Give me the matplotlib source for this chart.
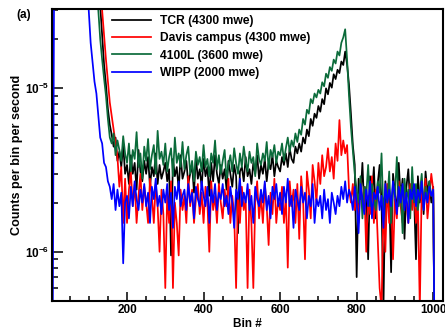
import numpy as np
import matplotlib
matplotlib.use('Agg')
import matplotlib.pyplot as plt
from matplotlib.ticker import MultipleLocator, LogLocator, FixedLocator, FixedFormatter, NullFormatter

# counts per bin per second, in units of 1e-6, one value every 5 bins (bins 0..1005)
bin_step = 5

tcr = [
    0.1, 100, 100, 100, 100, 100, 100, 100, 100, 100,
    100, 100, 100, 100, 100, 100, 100, 100, 100, 100,
    100, 100, 100, 100, 100, 100, 32, 21, 14, 10.5,
    7.5, 6.0, 5.2, 4.4, 5.0, 3.6, 4.1, 3.3, 4.5, 3.0,
    3.4, 2.6, 3.9, 3.0, 3.5, 2.4, 4.2, 3.1, 2.7, 3.6,
    3.0, 3.8, 2.5, 3.3, 2.9, 4.0, 2.6, 3.4, 2.8, 3.1,
    3.5, 2.7, 3.2, 0.95, 3.7, 2.9, 3.3, 2.4, 3.9, 2.8,
    3.1, 3.6, 2.6, 3.0, 3.4, 2.3, 3.8, 2.8, 3.2, 2.5,
    3.7, 2.9, 3.3, 2.2, 3.5, 2.7, 3.9, 3.0, 2.6, 3.4,
    2.8, 3.2, 2.4, 3.6, 3.0, 2.5, 3.4, 2.9, 1.3, 3.1,
    3.3, 2.7, 3.8, 2.9, 3.2, 2.6, 3.5, 3.0, 3.9, 2.8,
    3.4, 3.0, 3.7, 2.7, 3.5, 3.2, 3.9, 2.9, 3.6, 3.3,
    3.1, 3.8, 3.4, 4.0, 3.3, 4.3, 3.7, 3.5, 4.4, 4.0,
    4.6, 4.1, 5.0, 4.6, 5.6, 5.1, 6.5, 5.9, 7.0, 6.6,
    7.8, 7.2, 8.6, 8.0, 10.0, 9.2, 10.8, 10.1, 12.2, 11.4,
    13.0, 12.4, 14.6, 13.9, 16.8, 14.0, 10.5, 7.0, 4.5, 3.4,
    0.7, 2.8, 2.1, 3.5, 1.8, 2.5, 0.9, 2.9, 2.2, 3.3,
    1.6, 2.6, 3.4, 2.0, 0.45, 2.7, 1.9, 2.4, 0.75, 3.0,
    2.3, 1.7, 3.5, 2.1, 2.8, 1.2, 2.5, 3.2, 1.9, 2.6,
    2.2, 0.9, 2.9, 2.0, 2.6, 1.7, 3.1, 2.3, 2.7, 2.0,
    2.5, 0.1,
]

davis = [
    0.1, 100, 100, 100, 100, 100, 100, 100, 100, 100,
    100, 100, 100, 100, 100, 100, 100, 100, 100, 100,
    100, 100, 100, 100, 100, 100, 100, 30, 21, 15,
    11, 8.2, 6.8, 5.6, 4.6, 3.8, 2.5, 3.3, 1.5, 2.8,
    1.5, 2.4, 3.1, 1.9, 2.6, 1.5, 2.2, 3.0, 1.8, 2.5,
    2.0, 1.5, 2.8, 2.2, 1.5, 2.6, 1.9, 1.0, 2.4, 1.7,
    0.6, 2.3, 1.5, 2.7, 0.6, 2.0, 1.5, 0.95, 2.4, 1.8,
    2.2, 1.5, 2.9, 1.9, 2.4, 1.5, 2.1, 2.6, 1.7, 2.3,
    1.5, 2.5, 2.0, 1.0, 2.7, 1.8, 2.2, 1.5, 2.6, 2.0,
    1.6, 2.4, 1.9, 2.8, 1.5, 2.2, 1.7, 0.6, 2.3, 1.5,
    2.5, 1.8, 2.1, 0.6, 2.4, 1.5, 0.6, 2.0, 2.7, 1.6,
    2.2, 1.5, 2.6, 1.9, 1.1, 2.3, 1.7, 2.8, 1.5, 2.1,
    1.8, 2.5, 1.5, 2.2, 0.8, 2.7, 1.9, 2.4, 1.5, 2.6,
    1.2, 2.9, 2.1, 0.9, 3.1, 2.4, 1.6, 3.4, 2.7, 2.0,
    3.5, 2.6, 3.9, 2.9, 3.3, 4.3, 3.1, 3.8, 2.8, 4.6,
    3.6, 6.4, 3.9, 4.8, 4.0, 4.5, 2.4, 2.0, 2.6, 1.8,
    2.3, 1.5, 2.8, 1.9, 2.5, 1.0, 2.2, 1.7, 2.9, 1.5,
    2.4, 1.2, 0.6, 0.45, 2.0, 1.0, 2.6, 1.5, 2.2, 0.9,
    2.1, 1.6, 2.7, 1.9, 1.5, 2.4, 2.0, 1.5, 2.6, 1.8,
    2.3, 1.5, 2.0, 0.45, 2.5, 1.9, 2.8, 1.6, 2.2, 3.0,
    2.4, 0.1,
]

l4100 = [
    0.1, 100, 100, 100, 100, 100, 100, 100, 100, 100,
    100, 100, 100, 100, 100, 100, 100, 100, 100, 100,
    100, 100, 100, 100, 100, 30, 20, 15, 11.5, 9.0,
    6.5, 5.0, 4.6, 5.3, 3.9, 4.8, 4.2, 3.6, 5.1, 4.0,
    3.5, 4.6, 3.1, 4.2, 3.7, 5.4, 3.3, 4.0, 2.8, 4.4,
    3.6, 4.9, 3.2, 3.9, 4.5, 3.0, 5.5, 3.7, 4.1, 3.4,
    4.6, 3.1, 3.8, 4.3, 2.9, 5.0, 3.5, 4.0, 3.3, 4.7,
    3.2, 3.9, 4.4, 3.0, 3.6, 2.7, 4.1, 3.4, 3.8, 3.1,
    4.5, 3.3, 3.7, 2.9, 4.0, 3.5, 4.8, 3.2, 3.9, 3.0,
    3.6, 4.2, 2.8, 3.4, 3.9, 3.1, 4.3, 3.5, 3.0, 4.0,
    3.3, 4.4, 3.6, 3.1, 4.1, 3.5, 3.8, 2.9, 4.6, 3.7,
    3.4, 4.0, 3.6, 4.7, 3.2, 4.2, 3.8, 4.5, 3.5, 4.1,
    3.9, 4.6, 3.6, 4.3, 5.0, 4.1, 4.8, 4.4, 5.3, 4.7,
    5.6, 5.2, 6.5, 6.0, 7.4, 7.0, 8.6, 8.1, 9.3, 8.8,
    9.8, 9.3, 10.9, 10.3, 12.3, 11.6, 13.5, 12.8, 15.0, 14.2,
    16.8, 15.9, 19.0, 20.5, 23.0, 15.0, 9.0, 5.8, 4.2, 3.0,
    2.4, 2.0, 2.9, 1.6, 2.5, 2.2, 3.4, 1.9, 2.6, 2.1,
    1.8, 2.7, 2.3, 4.0, 1.7, 2.4, 2.0, 3.1, 1.5, 2.6,
    2.2, 3.8, 1.9, 2.5, 1.3, 2.8, 2.1, 2.4, 1.6, 3.3,
    2.0, 2.6, 1.8, 2.3, 3.0, 1.9, 2.5, 2.1, 2.7, 2.2,
    2.3, 0.1,
]

wipp = [
    0.1, 0.1, 100, 100, 100, 100, 100, 100, 100, 100,
    100, 100, 100, 100, 100, 100, 100, 100, 100, 100,
    30, 19, 14.5, 11, 9.3, 6.8, 5.0, 4.6, 3.5, 3.3,
    2.7, 2.5, 2.1, 2.6, 1.8, 2.4, 1.9, 2.3, 0.85, 2.0,
    2.2, 1.6, 2.5, 1.9, 2.7, 2.1, 1.8, 2.4, 2.0, 2.6,
    1.9, 2.3, 1.5, 2.5, 2.1, 2.8, 1.9, 2.2, 1.7, 2.4,
    2.0, 2.6, 1.8, 2.3, 1.4, 2.5, 2.1, 2.7, 1.9, 2.2,
    2.4, 1.8, 2.6, 2.0, 2.3, 1.6, 2.5, 2.1, 1.9, 2.7,
    2.2, 1.9, 2.5, 1.5, 2.4, 2.0, 2.6, 1.8, 2.3, 2.1,
    2.6, 1.9, 2.2, 1.7, 2.5, 2.0, 1.4, 2.4, 2.1, 2.8,
    1.9, 2.3, 2.0, 2.6, 1.8, 2.2, 1.5, 2.5, 2.1, 1.9,
    2.4, 2.0, 2.7, 1.8, 2.2, 1.6, 2.5, 2.1, 2.6, 1.9,
    2.3, 1.7, 2.5, 2.0, 2.8, 1.9, 2.2, 1.4, 2.4, 2.1,
    1.8, 2.5, 2.0, 2.3, 1.6, 2.2, 1.9, 2.6, 1.5, 2.1,
    1.9, 2.2, 1.6, 2.4, 1.8, 2.1, 1.5, 2.3, 2.0, 1.7,
    2.2, 1.9, 2.5, 2.1, 2.7, 2.0, 2.4, 2.2, 1.8, 2.5,
    2.0, 1.3, 2.6, 2.1, 1.7, 2.4, 1.9, 2.7, 1.6, 2.3,
    2.1, 2.5, 1.8, 2.2, 1.4, 2.6, 2.0, 2.4, 1.9, 2.7,
    2.2, 1.7, 2.5, 2.0, 2.6, 1.8, 2.3, 1.5, 2.4, 2.1,
    2.6, 1.9, 2.4, 2.1, 2.7, 1.8, 2.3, 2.0, 2.5, 2.2,
    2.4, 0.1,
]

series = [
    ('TCR (4300 mwe)', tcr, 'black'),
    ('Davis campus (4300 mwe)', davis, '#ff0000'),
    ('4100L (3600 mwe)', l4100, '#0b6b3a'),
    ('WIPP (2000 mwe)', wipp, '#0000ff'),
]

plt.rcParams['font.family'] = ['Liberation Sans', 'DejaVu Sans']
plt.rcParams['font.weight'] = 'bold'
plt.rcParams['mathtext.fontset'] = 'custom'
plt.rcParams['mathtext.rm'] = 'Liberation Sans:bold'
plt.rcParams['mathtext.bf'] = 'Liberation Sans:bold'
plt.rcParams['mathtext.it'] = 'Liberation Sans:bold:italic'

fig = plt.figure(figsize=(4.45, 3.3), dpi=100)
ax = fig.add_axes([0.116, 0.088, 0.879, 0.884])

for label, vals, color in series:
    bins = np.arange(len(vals)) * bin_step
    ax.plot(bins, np.array(vals) * 1e-6, color=color, lw=1.25, label=label)

ax.set_yscale('log')
ax.set_xlim(3, 1025)
ax.set_ylim(5e-7, 3.05e-5)

ax.set_xticks([200, 400, 600, 800, 1000])
ax.set_xticklabels(['200', '400', '600', '800', '1000'])
ax.xaxis.set_minor_locator(MultipleLocator(50))

ax.yaxis.set_major_locator(FixedLocator([1e-6, 1e-5]))
ax.yaxis.set_major_formatter(FixedFormatter([r'$10^{-6}$', r'$10^{-5}$']))
ax.yaxis.set_minor_locator(LogLocator(base=10, subs=np.arange(2, 10)))
ax.yaxis.set_minor_formatter(NullFormatter())

ax.tick_params(which='both', direction='in', top=False, right=False, width=1.1)
ax.tick_params(axis='x', which='major', length=6.5, pad=2.5, labelsize=8.5)
ax.tick_params(axis='x', which='minor', length=3.5)
ax.tick_params(axis='y', which='major', length=8, pad=1.5, labelsize=8.5)
ax.tick_params(axis='y', which='minor', length=4)
for sp in ax.spines.values():
    sp.set_linewidth(1.5)

ax.set_xlabel('Bin #', fontsize=8.5, fontweight='bold', labelpad=1)
ax.set_ylabel('Counts per bin per second', fontsize=9.1, fontweight='bold', labelpad=1.5)

fig.text(24 / 445, 1 - 15 / 330, '(a)', fontsize=8.5, fontweight='bold', ha='center', va='center')

ax.legend(loc='upper left', bbox_to_anchor=(112 / 445, 1 - 15 / 330), bbox_transform=fig.transFigure,
          frameon=False, fontsize=8.7, handlelength=3.2, handletextpad=0.75, labelspacing=0.44,
          borderpad=0, borderaxespad=0)

fig.savefig('out.png', dpi=100)
